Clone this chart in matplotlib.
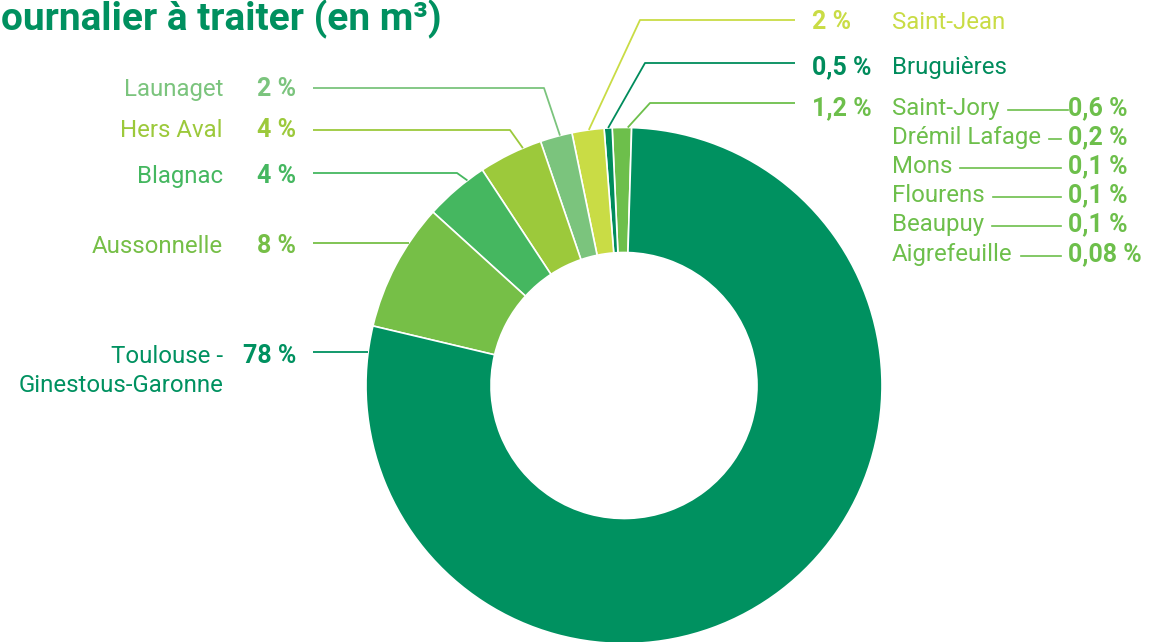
import numpy as np
import matplotlib
matplotlib.use('Agg')
import matplotlib.pyplot as plt

# main ring, counter-clockwise from the top
names = ['Saint-Jory', 'Bruguières', 'Saint-Jean', 'Launaget', 'Hers Aval',
         'Blagnac', 'Aussonnelle', 'Toulouse -\nGinestous-Garonne']
values = [1.2, 0.5, 2, 2, 4, 4, 8, 78]
pct_labels = ['1,2 %', '0,5 %', '2 %', '2 %', '4 %', '4 %', '8 %', '78 %']
colors = ['#6dbf4b', '#008c5c', '#c9dc45', '#7bc47d', '#9cc93b',
          '#45b760', '#76bf47', '#009160']

# detail of Saint-Jory group
sub_names = ['Saint-Jory', 'Drémil Lafage', 'Mons', 'Flourens', 'Beaupuy', 'Aigrefeuille']
sub_pct = ['0,6 %', '0,2 %', '0,1 %', '0,1 %', '0,1 %', '0,08 %']

W, H = 1161, 642
def py(y):
    return H - y

plt.rcParams['font.family'] = ['Roboto', 'DejaVu Sans']

fig = plt.figure(figsize=(W / 100, H / 100), dpi=100)
ax = fig.add_axes([0, 0, 1, 1])

cx, cy, R, r_in = 624, 385.5, 258, 133
wedges, _ = ax.pie(values, colors=colors, startangle=88.3, counterclock=True,
                   radius=R, center=(cx, py(cy)),
                   wedgeprops=dict(width=R - r_in, edgecolor='white', linewidth=1.2))
ax.set_xlim(0, W)
ax.set_ylim(0, H)
ax.set_aspect('auto')
ax.axis('off')

# title (cropped in the original)
ax.text(1, py(30), 'ournalier à traiter (en m³)', fontsize=28, fontweight='bold',
        color='#00905f', ha='left', va='baseline')

# label layout: side, text baseline, leader y, leader start x, elbow x, fraction along wedge
layout = {
    'Saint-Jory':  ('R', 115, 103, 795, 650, 0.2),
    'Bruguières':  ('R', 74, 63, 795, 645, 0.5),
    'Saint-Jean':  ('R', 29, 20, 795, 640, 0.47),
    'Launaget':    ('L', 96, 88, 313, 544, 0.375),
    'Hers Aval':   ('L', 137, 130, 313, 510, 0.29),
    'Blagnac':     ('L', 183, 173, 313, 457, 0.28),
    'Aussonnelle': ('L', 253, 243, 313, None, None),
    'Toulouse -\nGinestous-Garonne': ('L', 363, 352, 313, None, None),
}

name_fs, pct_fs = 17.3, 18
line_gap = 29
for w, name, pct, col in zip(wedges, names, pct_labels, colors):
    side, base, ly, sx, ex, frac = layout[name]
    if side == 'L':
        ax.text(296, py(base), pct, fontsize=pct_fs, fontweight='bold', color=col,
                ha='right', va='baseline')
        for k, part in enumerate(name.split('\n')):
            ax.text(223, py(base + k * line_gap), part, fontsize=name_fs, color=col,
                    ha='right', va='baseline')
    else:
        ax.text(812, py(base), pct, fontsize=pct_fs, fontweight='bold', color=col,
                ha='left', va='baseline')
        if name != 'Saint-Jory':
            ax.text(892, py(base), name, fontsize=name_fs, color=col, ha='left', va='baseline')
    # leader line
    if ex is None:
        dy = ly - cy
        endx = cx - np.sqrt(R ** 2 - dy ** 2)
        xs, ys = [sx, endx], [ly, ly]
    else:
        ang = np.deg2rad(w.theta1 + frac * (w.theta2 - w.theta1))
        endx, endy = cx + R * np.cos(ang), cy - R * np.sin(ang)
        xs, ys = [sx, ex, endx], [ly, ly, endy]
    ax.plot(xs, [py(v) for v in ys], color=col, lw=1.3, solid_capstyle='butt')

# Saint-Jory breakdown
sub_col = '#6dbf4b'
sub_base = [115, 144, 173, 202, 231, 261]
fig.canvas.draw()
rend = fig.canvas.get_renderer()
for nm, pc, b in zip(sub_names, sub_pct, sub_base):
    t = ax.text(892, py(b), nm, fontsize=name_fs, color=sub_col, ha='left', va='baseline')
    ax.text(1068, py(b), pc, fontsize=pct_fs, fontweight='bold', color=sub_col,
            ha='left', va='baseline')
    bb = t.get_window_extent(rend)
    x0 = bb.x1 + 8
    x1 = 1068 if nm == 'Saint-Jory' else 1061
    ax.plot([x0, x1], [py(b - 5), py(b - 5)], color=sub_col, lw=1.2)

fig.savefig('out.png', dpi=100)
